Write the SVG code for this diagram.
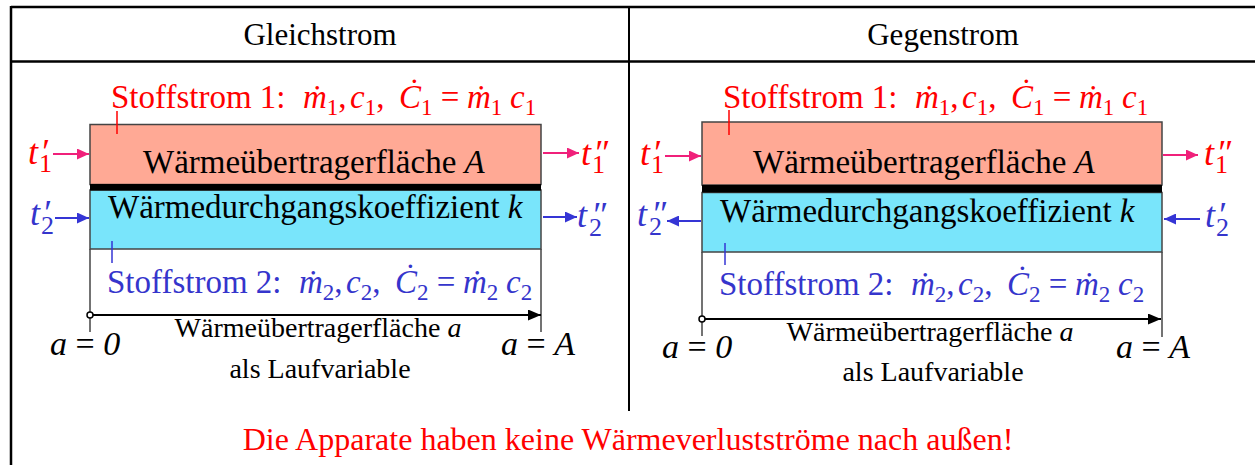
<svg xmlns="http://www.w3.org/2000/svg" width="1255" height="465" viewBox="0 0 1255 465">
<style>
text{font-family:"Liberation Serif","Times New Roman",serif;white-space:pre}
.hdr{font-size:31px;text-anchor:middle;fill:#000}
.big{font-size:33px}
.red{fill:#FF0000}
.blue{fill:#3535CC}
.blk{fill:#000}
.i{font-style:italic}
.sub{font-size:23px;font-style:normal}
.tv{font-size:36px;font-style:italic}
.ts{font-size:26px;font-style:normal}
.ax{font-size:28px;text-anchor:middle;fill:#000}
.eq{font-size:34px;fill:#000}
.frame{stroke:#000;stroke-width:2.5;fill:none}
.box{stroke:#444;stroke-width:1.5}
.pink{fill:#FFA995}
.cyan{fill:#79E5FB}
.bar{fill:#000}
.pa{stroke:#F0207A;stroke-width:2;fill:none;marker-end:url(#hp)}
.ba{stroke:#3535D5;stroke-width:2;fill:none;marker-end:url(#hb)}
.ka{stroke:#000;stroke-width:2;fill:none;marker-end:url(#hk)}
.rt{stroke:#FF0000;stroke-width:1.5}
.bt{stroke:#3535D5;stroke-width:1.5}
.side{stroke:#444;stroke-width:1.5;fill:none}
</style>
<defs>
<marker id="hp" markerUnits="userSpaceOnUse" markerWidth="12" markerHeight="11" refX="12" refY="5.5" orient="auto"><path d="M0,0 L12,5.5 L0,11 z" fill="#F0207A"/></marker>
<marker id="hb" markerUnits="userSpaceOnUse" markerWidth="12" markerHeight="11" refX="12" refY="5.5" orient="auto"><path d="M0,0 L12,5.5 L0,11 z" fill="#3535D5"/></marker>
<marker id="hk" markerUnits="userSpaceOnUse" markerWidth="13" markerHeight="11" refX="13" refY="5.5" orient="auto"><path d="M0,0 L13,5.5 L0,11 z" fill="#000"/></marker>
</defs>
<rect width="1255" height="465" fill="#fff"/>

<g id="frame">
<line class="frame" x1="11" y1="7" x2="1255" y2="7"/>
<line class="frame" x1="11" y1="61.5" x2="1255" y2="61.5"/>
<line class="frame" x1="11" y1="6" x2="11" y2="465"/>
<line x1="629" y1="6" x2="629" y2="411" stroke="#000" stroke-width="2"/>
</g>

<g id="header-left"><text class="hdr" x="320" y="45">Gleichstrom</text></g>
<g id="header-right"><text class="hdr" x="943" y="45">Gegenstrom</text></g>

<!-- LEFT PANEL: Gleichstrom -->
<g id="left-exchanger">
<line class="side" x1="90" y1="249" x2="90" y2="332"/>
<line class="side" x1="541" y1="249" x2="541" y2="332"/>
<rect class="pink box" x="90" y="124.5" width="451" height="60"/>
<rect class="cyan box" x="90" y="190" width="451" height="59"/>
<rect class="bar" x="90" y="184" width="451" height="6.5"/>
<text class="big blk" x="143" y="173">Wärmeübertragerfläche <tspan class="i">A</tspan></text>
<text class="big blk" x="108" y="218">Wärmedurchgangskoeffizient <tspan class="i">k</tspan></text>
</g>
<g id="left-stream1">
<line class="rt" x1="117" y1="111" x2="117" y2="134"/>
<text class="big red" x="111" y="108">Stoffstrom 1:<tspan class="i" x="303">ṁ</tspan><tspan class="sub" dy="7">1</tspan><tspan dy="-7">,</tspan><tspan class="i" x="350">c</tspan><tspan class="sub" dy="7">1</tspan><tspan dy="-7">,</tspan><tspan class="i" x="399">Ċ</tspan><tspan class="sub" dy="7">1</tspan><tspan dy="-7"> =</tspan><tspan class="i" x="467">ṁ</tspan><tspan class="sub" dy="7">1</tspan><tspan class="i" x="510" dy="-7">c</tspan><tspan class="sub" dy="7">1</tspan></text>
</g>
<g id="left-stream2">
<line class="bt" x1="112" y1="241" x2="112" y2="263"/>
<text class="big blue" x="107" y="293">Stoffstrom 2:<tspan class="i" x="299">ṁ</tspan><tspan class="sub" dy="7">2</tspan><tspan dy="-7">,</tspan><tspan class="i" x="346">c</tspan><tspan class="sub" dy="7">2</tspan><tspan dy="-7">,</tspan><tspan class="i" x="395">Ċ</tspan><tspan class="sub" dy="7">2</tspan><tspan dy="-7"> =</tspan><tspan class="i" x="463">ṁ</tspan><tspan class="sub" dy="7">2</tspan><tspan class="i" x="506" dy="-7">c</tspan><tspan class="sub" dy="7">2</tspan></text>
</g>
<g id="left-t1in"><text class="tv red" x="28" y="164">t<tspan class="ts" x="39" dy="8">1</tspan><tspan x="40" dy="-8">′</tspan></text></g>
<g id="left-t2in"><text class="tv blue" x="30" y="225">t<tspan class="ts" x="41" dy="9">2</tspan><tspan x="42" dy="-9">′</tspan></text></g>
<g id="left-t1out"><text class="tv red" x="581" y="165">t<tspan class="ts" x="592" dy="8">1</tspan><tspan x="593" dy="-8">″</tspan></text></g>
<g id="left-t2out"><text class="tv blue" x="577" y="227">t<tspan class="ts" x="589" dy="9">2</tspan><tspan x="591" dy="-9">″</tspan></text></g>
<g id="left-axis">
<circle cx="90" cy="315" r="3" fill="#fff" stroke="#000" stroke-width="1.5"/>
<text class="eq" x="50" y="355"><tspan class="i">a</tspan> = <tspan class="i">0</tspan></text>
<text class="eq" x="501" y="355"><tspan class="i">a</tspan> = <tspan class="i">A</tspan></text>
<text class="ax" x="318" y="337">Wärmeübertragerfläche <tspan class="i">a</tspan></text>
<text class="ax" x="320" y="378">als Laufvariable</text>
</g>

<!-- RIGHT PANEL: Gegenstrom -->
<g id="right-exchanger">
<line class="side" x1="702" y1="252" x2="702" y2="336"/>
<line class="side" x1="1162" y1="252" x2="1162" y2="337"/>
<rect class="pink box" x="702" y="122" width="460" height="63"/>
<rect class="cyan box" x="702" y="192.5" width="460" height="59.5"/>
<rect class="bar" x="702" y="185" width="460" height="7.5"/>
<text class="big blk" x="753" y="173">Wärmeübertragerfläche <tspan class="i">A</tspan></text>
<text class="big blk" x="720" y="222">Wärmedurchgangskoeffizient <tspan class="i">k</tspan></text>
</g>
<g id="right-stream1">
<line class="rt" x1="729" y1="110" x2="729" y2="135"/>
<text class="big red" x="723" y="108">Stoffstrom 1:<tspan class="i" x="915">ṁ</tspan><tspan class="sub" dy="7">1</tspan><tspan dy="-7">,</tspan><tspan class="i" x="962">c</tspan><tspan class="sub" dy="7">1</tspan><tspan dy="-7">,</tspan><tspan class="i" x="1011">Ċ</tspan><tspan class="sub" dy="7">1</tspan><tspan dy="-7"> =</tspan><tspan class="i" x="1079">ṁ</tspan><tspan class="sub" dy="7">1</tspan><tspan class="i" x="1122" dy="-7">c</tspan><tspan class="sub" dy="7">1</tspan></text>
</g>
<g id="right-stream2">
<line class="bt" x1="725" y1="243" x2="725" y2="265"/>
<text class="big blue" x="719" y="295">Stoffstrom 2:<tspan class="i" x="911">ṁ</tspan><tspan class="sub" dy="7">2</tspan><tspan dy="-7">,</tspan><tspan class="i" x="958">c</tspan><tspan class="sub" dy="7">2</tspan><tspan dy="-7">,</tspan><tspan class="i" x="1007">Ċ</tspan><tspan class="sub" dy="7">2</tspan><tspan dy="-7"> =</tspan><tspan class="i" x="1075">ṁ</tspan><tspan class="sub" dy="7">2</tspan><tspan class="i" x="1118" dy="-7">c</tspan><tspan class="sub" dy="7">2</tspan></text>
</g>
<g id="right-t1in"><text class="tv red" x="640" y="165">t<tspan class="ts" x="651" dy="8">1</tspan><tspan x="652" dy="-8">′</tspan></text></g>
<g id="right-t2out"><text class="tv blue" x="637" y="226">t<tspan class="ts" x="649" dy="9">2</tspan><tspan x="651" dy="-9">″</tspan></text></g>
<g id="right-t1out"><text class="tv red" x="1204" y="165">t<tspan class="ts" x="1215" dy="8">1</tspan><tspan x="1216" dy="-8">″</tspan></text></g>
<g id="right-t2in"><text class="tv blue" x="1205" y="227">t<tspan class="ts" x="1216" dy="9">2</tspan><tspan x="1217" dy="-9">′</tspan></text></g>
<g id="right-axis">
<circle cx="702" cy="319" r="3" fill="#fff" stroke="#000" stroke-width="1.5"/>
<text class="eq" x="662" y="358"><tspan class="i">a</tspan> = <tspan class="i">0</tspan></text>
<text class="eq" x="1116" y="358"><tspan class="i">a</tspan> = <tspan class="i">A</tspan></text>
<text class="ax" x="930" y="341">Wärmeübertragerfläche <tspan class="i">a</tspan></text>
<text class="ax" x="933" y="381">als Laufvariable</text>
</g>

<g id="connectors">
<line class="pa" x1="53" y1="154" x2="89" y2="154"/>
<line class="ba" x1="55" y1="218" x2="89" y2="218"/>
<line class="pa" x1="543" y1="153" x2="579" y2="153"/>
<line class="ba" x1="543" y1="217" x2="577" y2="217"/>
<line class="ka" x1="93" y1="315" x2="541" y2="315"/>
<line class="pa" x1="665" y1="156" x2="701" y2="156"/>
<line class="ba" x1="701" y1="221" x2="667" y2="221"/>
<line class="pa" x1="1163" y1="155" x2="1198" y2="155"/>
<line class="ba" x1="1200" y1="219" x2="1164" y2="219"/>
<line class="ka" x1="705" y1="319" x2="1161" y2="319"/>
</g>

<g id="note"><text x="628" y="450" font-size="32" fill="#FF0000" text-anchor="middle">Die Apparate haben keine Wärmeverlustströme nach außen!</text></g>
</svg>
